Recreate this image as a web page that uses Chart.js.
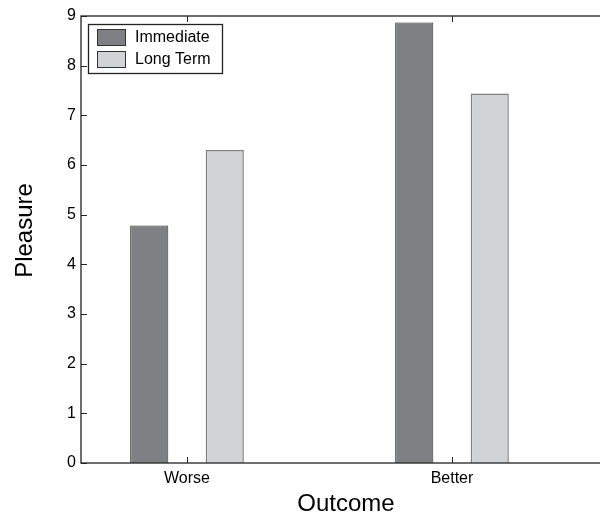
<!DOCTYPE html>
<html>
<head>
<meta charset="utf-8">
<script src="https://cdn.jsdelivr.net/npm/chart.js@4/dist/chart.umd.min.js"></script>
<style>
  html, body { margin: 0; padding: 0; background: #fff; overflow: hidden; }
  #wrap { width: 600px; height: 517px; overflow: hidden; }
</style>
</head>
<body>
<div id="wrap"><canvas id="chart" width="620" height="517"></canvas></div>
<script>
// data
const categories = ['Worse', 'Better'];
const seriesNames = ['Immediate', 'Long Term'];
const immediate = [4.78, 8.87];
const longTerm = [6.30, 7.44];
const yTicks = [0, 1, 2, 3, 4, 5, 6, 7, 8, 9];
const yTitle = 'Pleasure';

const FONT = '"Liberation Sans", Arial, Helvetica, sans-serif';

// bars sit at x = 1, 2 on a linear axis (like matlab's bar)
const toPoints = (vals) => vals.map((v, i) => ({ x: i + 1, y: v }));

// frame, inward ticks, y title and the boxed legend inside the plot
const framePlugin = {
  id: 'frame',
  afterDraw(chart) {
    const { ctx, chartArea: a, scales } = chart;
    ctx.save();
    ctx.strokeStyle = '#222';
    ctx.lineWidth = 1.3;
    ctx.strokeRect(a.left, a.top, a.right - a.left, a.bottom - a.top);

    ctx.lineWidth = 1;
    ctx.beginPath();
    scales.x.ticks.forEach(t => {
      const px = Math.round(scales.x.getPixelForValue(t.value)) + 0.5;
      ctx.moveTo(px, a.bottom); ctx.lineTo(px, a.bottom - 6);
      ctx.moveTo(px, a.top); ctx.lineTo(px, a.top + 6);
    });
    scales.y.ticks.forEach(t => {
      const py = Math.round(scales.y.getPixelForValue(t.value)) + 0.5;
      ctx.moveTo(a.left, py); ctx.lineTo(a.left + 6, py);
      ctx.moveTo(a.right, py); ctx.lineTo(a.right - 6, py);
    });
    ctx.stroke();

    // y title, sitting a little above the axis middle as in the original
    ctx.save();
    ctx.translate(25, (a.top + a.bottom) / 2 - 9);
    ctx.rotate(-Math.PI / 2);
    ctx.font = '24px ' + FONT;
    ctx.fillStyle = '#000';
    ctx.textAlign = 'center';
    ctx.textBaseline = 'middle';
    ctx.fillText(yTitle, 0, 0);
    ctx.restore();

    // legend box
    const lx = a.left + 7, ly = a.top + 8, lw = 134, lh = 49;
    ctx.fillStyle = '#fff';
    ctx.fillRect(lx, ly, lw, lh);
    ctx.strokeStyle = '#222';
    ctx.lineWidth = 1.3;
    ctx.strokeRect(lx + 0.5, ly + 0.5, lw, lh);
    ctx.font = '16px ' + FONT;
    ctx.textBaseline = 'middle';
    chart.data.datasets.forEach((ds, i) => {
      const sy = ly + 5.5 + i * 22;
      ctx.fillStyle = ds.backgroundColor;
      ctx.fillRect(lx + 9.5, sy, 28, 16);
      ctx.strokeStyle = '#333';
      ctx.lineWidth = 1;
      ctx.strokeRect(lx + 9.5, sy, 28, 16);
      ctx.fillStyle = '#000';
      ctx.fillText(ds.label, lx + 47, sy + 8.5);
    });
    ctx.restore();
  }
};

new Chart(document.getElementById('chart'), {
  type: 'bar',
  data: {
    datasets: [
      {
        label: seriesNames[0],
        data: toPoints(immediate),
        backgroundColor: '#7f8084',
        borderColor: '#333333',
        borderWidth: 1
      },
      {
        label: seriesNames[1],
        data: toPoints(longTerm),
        backgroundColor: '#d2d3d5',
        borderColor: '#808080',
        borderWidth: 1.5
      }
    ]
  },
  options: {
    responsive: false,
    animation: false,
    categoryPercentage: 0.57,
    barPercentage: 0.505,
    layout: { padding: { top: 16, right: 9, left: 0, bottom: 0 } },
    plugins: {
      legend: { display: false },
      tooltip: { enabled: false }
    },
    scales: {
      x: {
        type: 'linear',
        min: 0.6,
        max: 2.6,
        offset: false,
        grid: { display: false, drawTicks: false, offset: false },
        border: { display: false },
        afterBuildTicks: (scale) => {
          scale.ticks = categories.map((c, i) => ({ value: i + 1 }));
        },
        afterFit: (scale) => { scale.height = 54; },
        ticks: {
          padding: 6,
          color: '#000',
          font: { family: FONT, size: 16 },
          maxRotation: 0,
          callback: (v) => categories[v - 1]
        },
        title: {
          display: true,
          text: 'Outcome',
          color: '#000',
          font: { family: FONT, size: 24 },
          padding: { top: 0, bottom: -2 }
        }
      },
      y: {
        min: 0,
        max: 9,
        grid: { display: false, drawTicks: false },
        border: { display: false },
        afterBuildTicks: (scale) => {
          scale.ticks = yTicks.map(v => ({ value: v }));
        },
        afterFit: (scale) => { scale.width = 81; },
        ticks: {
          padding: 5,
          color: '#000',
          font: { family: FONT, size: 16 }
        }
      }
    }
  },
  plugins: [framePlugin]
});
</script>
</body>
</html>
